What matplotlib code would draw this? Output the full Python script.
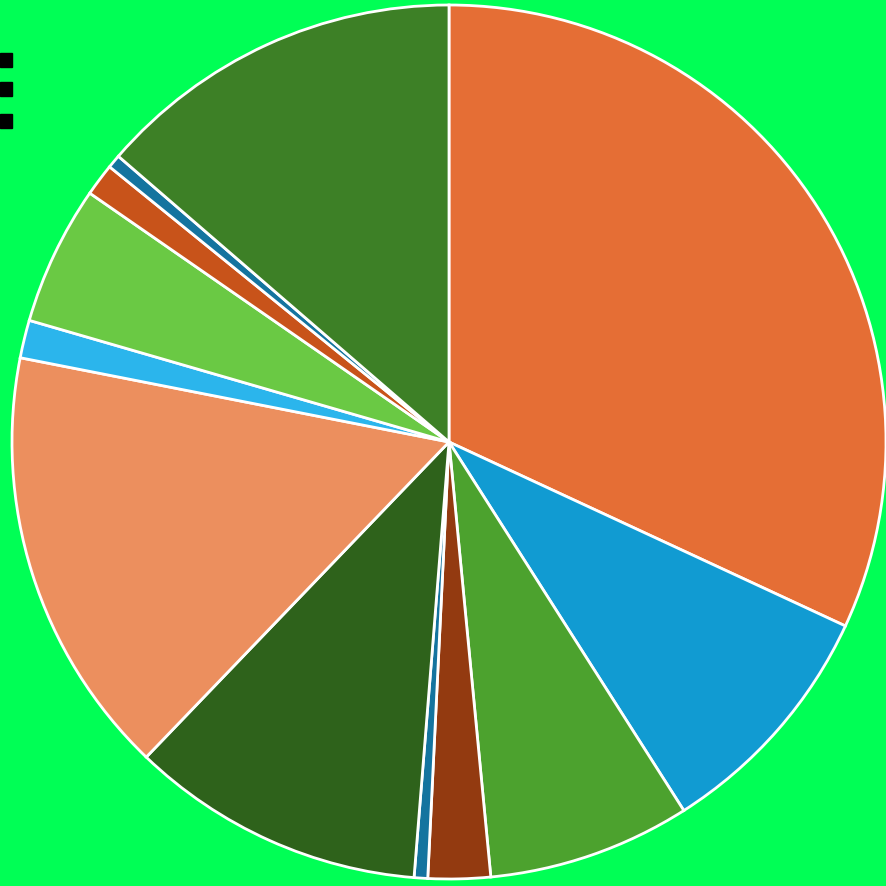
import numpy as np
import matplotlib
matplotlib.use("Agg")
from matplotlib import pyplot as plt
from matplotlib.patches import Rectangle

# === Data (slice sizes in %) ===
labels = ["A", "B", "C", "D", "E", "F", "G", "H", "I", "J", "K", "L"]
values = [31.9, 9.05, 7.5, 2.3, 0.5, 10.9, 15.9, 1.4, 5.15, 1.2, 0.5, 13.65]
colors = ["#e56e35", "#119bd2", "#4ca22e", "#933a10", "#14749f", "#2e621b",
          "#ec8f5e", "#2bb5ec", "#6ac944", "#c8531a", "#14749f", "#3d8026"]

# === Plot ===
fig = plt.figure(figsize=(8.86, 8.87), dpi=100)
fig.patch.set_facecolor("#00ff55")

W, H = 886, 887
cx, cy, r = 449, 443, 437
ax = fig.add_axes([(cx - r) / W, (H - cy - r) / H, 2 * r / W, 2 * r / H])
ax.set_facecolor("#00ff55")

ax.pie(values, colors=colors, startangle=90, counterclock=False,
       wedgeprops=dict(edgecolor="white", linewidth=2))
ax.set_aspect("equal")
ax.set_xlim(-1, 1)
ax.set_ylim(-1, 1)
ax.axis("off")

# clipped legend markers at top-left corner
for y0 in [54, 83, 115]:
    fig.patches.append(Rectangle((0, 1 - (y0 + 14) / H), 12 / W, 14 / H,
                                 transform=fig.transFigure, color="black"))

fig.savefig("out.png", dpi=100, facecolor=fig.get_facecolor())
